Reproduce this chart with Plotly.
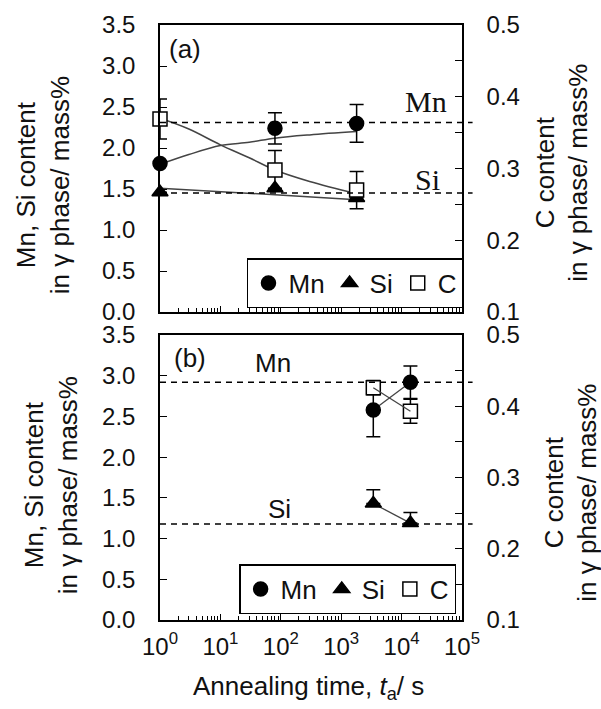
import plotly.graph_objects as go

# ---------------- data: panel (a) ----------------
t_a = [1.0, 80, 1800]
mn_a = [1.81, 2.24, 2.30]
mn_a_err = [0.0, 0.19, 0.23]
si_a = [1.46, 1.51, 1.39]
si_a_err = [0.0, 0.0, 0.0]
c_a = [0.369, 0.298, 0.270]
c_a_err = [0.028, 0.027, 0.026]

# fitted curves
fit_t_a = [1.0, 3, 10, 30, 80, 300, 1800]
fit_mn_a = [1.80, 1.92, 2.03, 2.07, 2.12, 2.16, 2.20]
fit_c_a = [0.370, 0.355, 0.333, 0.315, 0.298, 0.282, 0.265]
fit_si_t_a = [1.0, 80, 1800]
fit_si_a = [1.51, 1.43, 1.37]

ref_a_names = ["Mn", "Si"]
ref_a_vals = [2.31, 1.45]

# ---------------- data: panel (b) ----------------
t_b = [3400, 14000]
mn_b = [2.58, 2.92]
mn_b_err = [0.33, 0.20]
si_b = [1.43, 1.19]
si_b_err_plus = [0.17, 0.13]
si_b_err_minus = [0.0, 0.0]
c_b = [0.426, 0.393]
c_b_err = [0.010, 0.017]

ref_b_names = ["Mn", "Si"]
ref_b_vals = [2.92, 1.18]

# axis tick labels
x_tickvals = [1, 10, 100, 1000, 10000, 100000]
x_ticktext = ["10<sup>0</sup>", "10<sup>1</sup>", "10<sup>2</sup>",
              "10<sup>3</sup>", "10<sup>4</sup>", "10<sup>5</sup>"]
x_minor_vals = [m * 10 ** d for d in range(5) for m in range(2, 10)]

FONT = "Liberation Sans, Arial, sans-serif"
SERIF = "Liberation Serif, Times New Roman, serif"
INK = "#111111"
LINE = "#444444"

fig = go.Figure()


def markers(x, y, err, sym, name, xa, ya, legend, fill="black", err_minus=None):
    ey = dict(type="data", array=err, visible=True, color="black",
              thickness=1.5, width=7)
    if err_minus is not None:
        ey.update(symmetric=False, arrayminus=err_minus)
    return go.Scatter(
        x=x, y=y, mode="markers", name=name, xaxis=xa, yaxis=ya,
        legend=legend, cliponaxis=False,
        marker=dict(symbol=sym, size=14, color=fill,
                    line=dict(color="black", width=1.5)),
        error_y=ey,
    )


# ---- panel (a) fit lines ----
fig.add_trace(go.Scatter(x=fit_t_a, y=fit_mn_a, mode="lines", line=dict(color=LINE, width=1.5, shape="spline"),
                         xaxis="x", yaxis="y", showlegend=False, hoverinfo="skip"))
fig.add_trace(go.Scatter(x=fit_si_t_a, y=fit_si_a, mode="lines", line=dict(color=LINE, width=1.5, shape="spline"),
                         xaxis="x", yaxis="y", showlegend=False, hoverinfo="skip"))
fig.add_trace(go.Scatter(x=fit_t_a, y=fit_c_a, mode="lines", line=dict(color=LINE, width=1.5, shape="spline"),
                         xaxis="x", yaxis="y2", showlegend=False, hoverinfo="skip"))

# ---- panel (a) data ----
fig.add_trace(markers(t_a, mn_a, mn_a_err, "circle", "Mn", "x", "y", "legend"))
fig.add_trace(markers(t_a, si_a, si_a_err, "triangle-up", "Si", "x", "y", "legend"))
fig.add_trace(markers(t_a, c_a, c_a_err, "square", "C", "x", "y2", "legend", fill="white"))

# ---- panel (b) connecting lines ----
fig.add_trace(go.Scatter(x=t_b, y=mn_b, mode="lines", line=dict(color=LINE, width=1.3),
                         xaxis="x2", yaxis="y3", showlegend=False, hoverinfo="skip"))
fig.add_trace(go.Scatter(x=t_b, y=si_b, mode="lines", line=dict(color=LINE, width=1.3),
                         xaxis="x2", yaxis="y3", showlegend=False, hoverinfo="skip"))

# ---- panel (b) data ----
fig.add_trace(markers(t_b, mn_b, mn_b_err, "circle", "Mn", "x2", "y3", "legend2"))
fig.add_trace(markers(t_b, si_b, si_b_err_plus, "triangle-up", "Si", "x2", "y3", "legend2",
                      err_minus=si_b_err_minus))
fig.add_trace(markers(t_b, c_b, c_b_err, "square", "C", "x2", "y4", "legend2", fill="white"))
fig.add_trace(go.Scatter(x=t_b, y=c_b, mode="lines", line=dict(color=LINE, width=1.3),
                         xaxis="x2", yaxis="y4", showlegend=False, hoverinfo="skip"))

# ---- reference dashed lines ----
shapes = []
for v in ref_a_vals:
    shapes.append(dict(type="line", xref="x domain", yref="y", x0=0, x1=1.035, y0=v, y1=v,
                       line=dict(color="black", width=1.5, dash="6px,5px")))
for v in ref_b_vals:
    shapes.append(dict(type="line", xref="x2 domain", yref="y3", x0=0, x1=1.035, y0=v, y1=v,
                       line=dict(color="black", width=1.5, dash="6px,5px")))

common_x = dict(type="log", range=[0, 5], showline=True, mirror=True, linecolor="black",
                linewidth=1.5, ticks="inside", ticklen=6, tickcolor="black", tickwidth=1.2,
                tickmode="array", tickvals=x_tickvals, showgrid=False, zeroline=False,
                minor=dict(ticks="inside", ticklen=4, tickcolor="black", tickwidth=1,
                           tickmode="array", tickvals=x_minor_vals, showgrid=False))

left_y = dict(range=[0, 3.5], tick0=0, dtick=0.5, tickformat=".1f", showline=True,
              linecolor="black", linewidth=1.5, ticks="inside", ticklen=7, tickcolor="black",
              tickwidth=1.2, showgrid=False, zeroline=False, ticklabelstandoff=18,
              tickfont=dict(size=24, family=FONT, color=INK))
right_y = dict(range=[0.1, 0.5], tick0=0.1, dtick=0.1, tickformat=".1f", showline=True,
               linecolor="black", linewidth=1.5, ticks="inside", ticklen=7, tickcolor="black",
               tickwidth=1.2, showgrid=False, zeroline=False, side="right",
               ticklabelstandoff=18, tickfont=dict(size=24, family=FONT, color=INK),
               minor=dict(ticks="inside", dtick=0.05, ticklen=7, tickcolor="black",
                          tickwidth=1.2, showgrid=False))

top_dom = [0.5176, 1.0]
bot_dom = [0.0, 0.479]

fig.update_layout(
    width=601, height=709,
    margin=dict(l=160, r=139, t=25, b=89),
    paper_bgcolor="white", plot_bgcolor="white",
    font=dict(family=FONT, color=INK, size=25),
    shapes=shapes,
    xaxis=dict(common_x, anchor="y", domain=[0, 1], showticklabels=False),
    xaxis2=dict(common_x, anchor="y3", domain=[0, 1], ticktext=x_ticktext,
                ticklabelstandoff=4, tickfont=dict(size=24, family=FONT, color=INK)),
    yaxis=dict(left_y, domain=top_dom, anchor="x"),
    yaxis2=dict(right_y, domain=top_dom, anchor="x", overlaying="y"),
    yaxis3=dict(left_y, domain=bot_dom, anchor="x2"),
    yaxis4=dict(right_y, domain=bot_dom, anchor="x2", overlaying="y3"),
    legend=dict(orientation="h", x=0.288, y=0.6084, xanchor="left", yanchor="top",
                bordercolor="black", borderwidth=1.5, bgcolor="white", itemwidth=30,
                font=dict(size=26, family=FONT, color=INK), traceorder="normal"),
    legend2=dict(orientation="h", x=0.262, y=0.0941, xanchor="left", yanchor="top",
                 bordercolor="black", borderwidth=1.5, bgcolor="white", itemwidth=30,
                 font=dict(size=26, family=FONT, color=INK), traceorder="normal"),
)

ytitle_left = "Mn, Si content<br>in γ phase/ mass%"
ytitle_right = "C content<br>in γ phase/ mass%"

ann = [
    dict(text=ytitle_left, x=-0.387, y=0.731, textangle=-90),
    dict(text=ytitle_right, x=1.33, y=0.751, textangle=-90),
    dict(text=ytitle_left, x=-0.36, y=0.227, textangle=-90),
    dict(text=ytitle_right, x=1.36, y=0.2134, textangle=-90),
    dict(text="Annealing time, <i>t</i><sub>a</sub>/ s", x=0.493, y=-0.114),
    dict(text="(a)", x=0.083, y=0.9597),
    dict(text="(b)", x=0.099, y=0.4403),
    dict(text="Mn", x=0.881, y=0.8706, font=dict(family=SERIF, size=30, color=INK)),
    dict(text="Si", x=0.887, y=0.741, font=dict(family=SERIF, size=30, color=INK)),
    dict(text="Mn", x=0.374, y=0.432),
    dict(text="Si", x=0.397, y=0.1866),
]
for a in ann:
    a.setdefault("font", dict(family=FONT, size=26, color=INK))
    fig.add_annotation(xref="paper", yref="paper", showarrow=False,
                       xanchor="center", yanchor="middle", **a)

fig.write_html("out.html")
